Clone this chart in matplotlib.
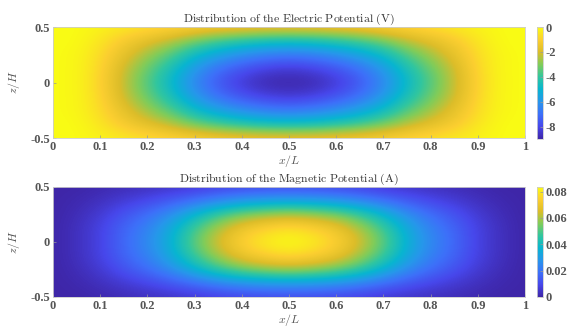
import numpy as np
import matplotlib
matplotlib.use('Agg')
import matplotlib.pyplot as plt
from matplotlib.colors import LinearSegmentedColormap

plt.rcParams['mathtext.fontset'] = 'cm'
plt.rcParams['axes.unicode_minus'] = False

# grid positions (x/L every 0.05, z/H every 0.125, top row first)
x_pos = np.linspace(0, 1, 21)
z_pos = [0.5, 0.375, 0.25, 0.125, 0, -0.125, -0.25, -0.375, -0.5]

# electric potential (V), rows
e_z050 = [0, 0, -0.2, -0.4, -0.6, -0.8, -1.0, -1.2, -1.3, -1.4, -1.4, -1.4, -1.3, -1.2, -1.0, -0.8, -0.6, -0.4, -0.2, 0, 0]
e_z0375 = [0, 0, -0.5, -1.2, -1.8, -2.4, -3.2, -3.8, -4.2, -4.5, -4.6, -4.5, -4.2, -3.8, -3.2, -2.4, -1.8, -1.2, -0.5, 0, 0]
e_z025 = [0, -0.1, -0.7, -1.7, -2.7, -3.6, -4.8, -5.6, -6.2, -6.6, -6.8, -6.6, -6.2, -5.6, -4.8, -3.6, -2.7, -1.7, -0.7, -0.1, 0]
e_z0125 = [0, -0.1, -0.8, -2.2, -3.3, -4.5, -5.9, -7.0, -7.7, -8.2, -8.4, -8.2, -7.7, -7.0, -5.9, -4.5, -3.3, -2.2, -0.8, -0.1, 0]
e_z0 = [0, -0.1, -0.9, -2.3, -3.6, -4.9, -6.4, -7.6, -8.4, -8.9, -9.0, -8.9, -8.4, -7.6, -6.4, -4.9, -3.6, -2.3, -0.9, -0.1, 0]

# magnetic potential (A)
m_z050 = [0, 0, 0.001, 0.002, 0.003, 0.004, 0.005, 0.007, 0.008, 0.009, 0.009, 0.009, 0.008, 0.007, 0.005, 0.004, 0.003, 0.002, 0.001, 0, 0]
m_z0375 = [0, 0.001, 0.003, 0.006, 0.009, 0.013, 0.018, 0.023, 0.027, 0.029, 0.030, 0.029, 0.027, 0.023, 0.018, 0.013, 0.009, 0.006, 0.003, 0.001, 0]
m_z025 = [0, 0.002, 0.006, 0.012, 0.018, 0.026, 0.037, 0.047, 0.054, 0.058, 0.060, 0.058, 0.054, 0.047, 0.037, 0.026, 0.018, 0.012, 0.006, 0.002, 0]
m_z0125 = [0, 0.003, 0.008, 0.016, 0.023, 0.034, 0.048, 0.060, 0.070, 0.075, 0.078, 0.075, 0.070, 0.060, 0.048, 0.034, 0.023, 0.016, 0.008, 0.003, 0]
m_z0 = [0, 0.003, 0.008, 0.017, 0.025, 0.036, 0.052, 0.065, 0.075, 0.081, 0.084, 0.081, 0.075, 0.065, 0.052, 0.036, 0.025, 0.017, 0.008, 0.003, 0]

elec = np.array([e_z050, e_z0375, e_z025, e_z0125, e_z0, e_z0125, e_z025, e_z0375, e_z050])
magn = np.array([m_z050, m_z0375, m_z025, m_z0125, m_z0, m_z0125, m_z025, m_z0375, m_z050])

x_ticks = [0, 0.1, 0.2, 0.3, 0.4, 0.5, 0.6, 0.7, 0.8, 0.9, 1]
x_labels = ['0', '0.1', '0.2', '0.3', '0.4', '0.5', '0.6', '0.7', '0.8', '0.9', '1']
z_ticks = [-0.5, 0, 0.5]
z_labels = ['-0.5', '0', '0.5']
e_cticks = [0, -2, -4, -6, -8]
m_cticks = [0, 0.02, 0.04, 0.06, 0.08]

parula = LinearSegmentedColormap.from_list('parula', [
    '#3e26a8', '#4747eb', '#3d70f9', '#2796eb', '#08b5d0',
    '#31c69f', '#81cc59', '#dcbd29', '#fccf30', '#f9fb14'])

tick_font = dict(family='Liberation Serif', weight='bold', size=9, color='#555555')
grey = '#555555'

fig = plt.figure(figsize=(5.71, 3.31), dpi=100)

dx = (x_pos[1] - x_pos[0]) / 2
dz = 0.125 / 2
extent = [-dx, 1 + dx, -0.5 - dz, 0.5 + dz]

panels = [
    ([0.0928, 0.583, 0.8266, 0.3353], [0.9405, 0.580, 0.0105, 0.3384], elec, -9.0, 0,
     e_cticks, [str(t) for t in e_cticks],
     r'$\mathrm{Distribution\ of\ the\ Electric\ Potential\ (V)}$'),
    ([0.0928, 0.103, 0.8266, 0.333], [0.9405, 0.103, 0.0105, 0.333], magn, 0, 0.0837,
     m_cticks, ['0', '0.02', '0.04', '0.06', '0.08'],
     r'$\mathrm{Distribution\ of\ the\ Magnetic\ Potential\ (A)}$'),
]

for rect, crect, field, lo, hi, cticks, clabels, title in panels:
    ax = fig.add_axes(rect)
    im = ax.imshow(field, cmap=parula, vmin=lo, vmax=hi, extent=extent,
                   origin='upper', aspect='auto', interpolation='bicubic')
    ax.set_xlim(0, 1)
    ax.set_ylim(-0.5, 0.5)
    ax.set_xticks(x_ticks)
    ax.set_xticklabels(x_labels, fontdict=tick_font)
    ax.set_yticks(z_ticks)
    ax.set_yticklabels(z_labels, fontdict=tick_font)
    ax.tick_params(direction='in', length=2, width=0.5, color='#999999', pad=2)
    for s in ax.spines.values():
        s.set_color('#cccccc')
        s.set_linewidth(0.6)
    ax.set_title(title, fontsize=8.5, color='#333333', pad=3)
    ax.set_xlabel(r'$x/L$', fontsize=8.5, color=grey, labelpad=0)
    ax.set_ylabel(r'$z/H$', fontsize=8.5, color=grey, labelpad=6)

    cax = fig.add_axes(crect)
    cb = fig.colorbar(im, cax=cax)
    cb.set_ticks(cticks)
    cb.set_ticklabels(clabels)
    for lab in cax.get_yticklabels():
        lab.set_fontfamily('Liberation Serif')
        lab.set_fontweight('bold')
        lab.set_fontsize(9)
        lab.set_color(grey)
    cax.tick_params(direction='in', length=2, width=0.5, color='#999999', pad=2)
    cb.outline.set_edgecolor('#cccccc')
    cb.outline.set_linewidth(0.6)

fig.savefig('out.png', dpi=100)
